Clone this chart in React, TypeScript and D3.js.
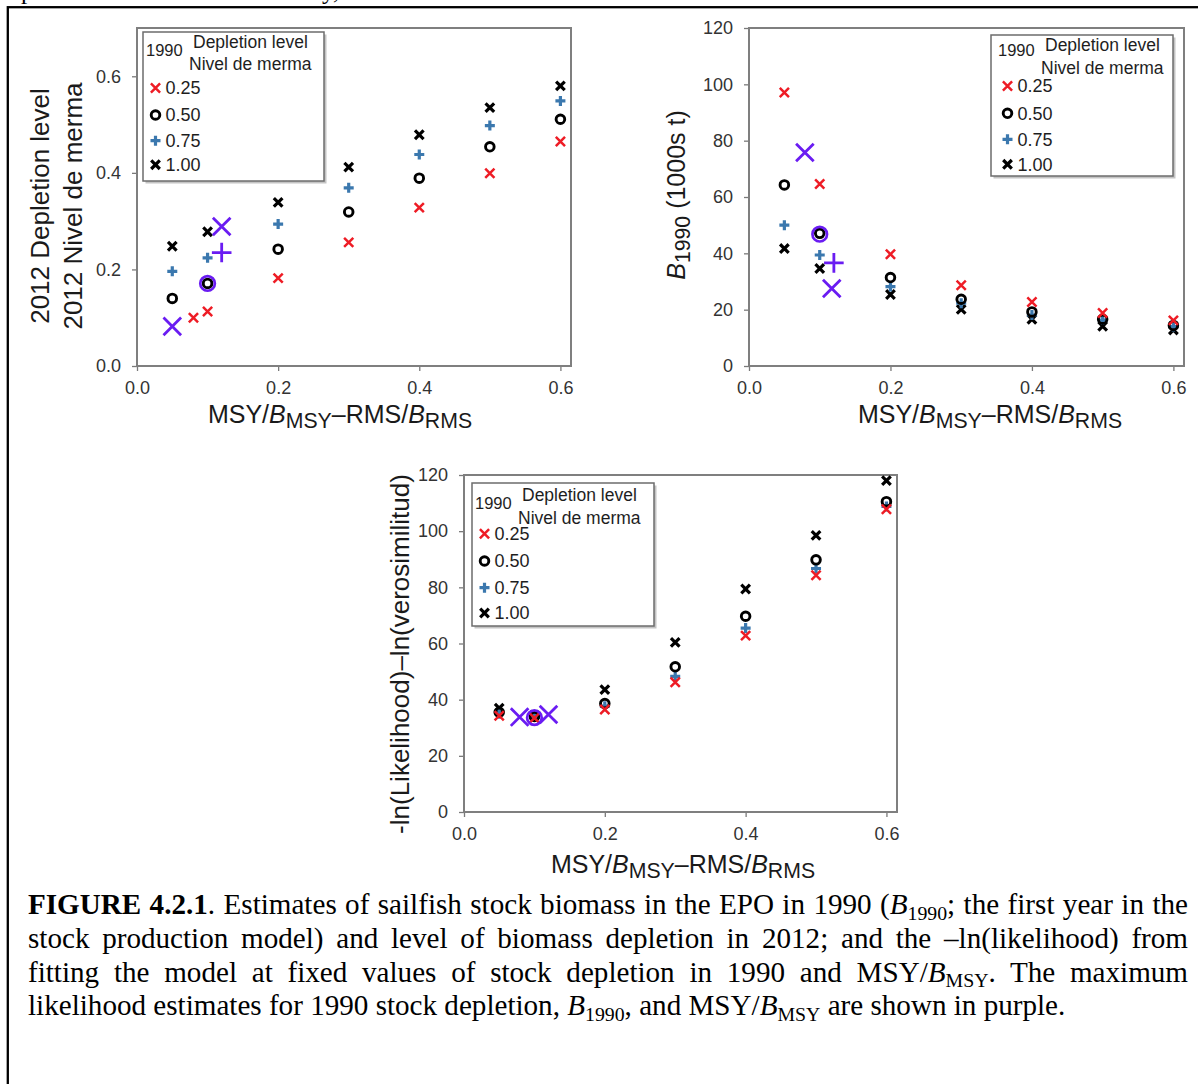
import React, { useEffect, useRef } from 'react';
import * as d3 from 'd3';

// ---------------- data ----------------
const MSY_LEVELS = [0.05, 0.1, 0.2, 0.3, 0.4, 0.5, 0.6];
const MSY_LEVELS_P1_D025 = [0.08, 0.1, 0.2, 0.3, 0.4, 0.5, 0.6];
const DEPLETION_1990 = ['0.25', '0.50', '0.75', '1.00'];

// 2012 depletion level
const DEPL2012_D025 = [0.100, 0.113, 0.182, 0.256, 0.328, 0.399, 0.465];
const DEPL2012_D050 = [0.140, 0.171, 0.242, 0.319, 0.389, 0.454, 0.511];
const DEPL2012_D075 = [0.196, 0.224, 0.294, 0.369, 0.438, 0.498, 0.549];
const DEPL2012_D100 = [0.248, 0.278, 0.339, 0.412, 0.479, 0.535, 0.580];

// B1990 (1000s t)
const B1990_D025 = [97.1, 64.6, 39.7, 28.7, 22.7, 18.8, 16.2];
const B1990_D050 = [64.3, 47.1, 31.4, 23.7, 19.2, 16.6, 14.4];
const B1990_D075 = [50.0, 39.4, 28.2, 22.3, 18.1, 16.3, 14.0];
const B1990_D100 = [41.7, 34.6, 25.4, 20.1, 16.6, 14.1, 12.8];

// -ln(likelihood)
const NLL_D025 = [34.3, 33.5, 36.5, 46.2, 62.8, 84.3, 107.8];
const NLL_D050 = [35.5, 34.0, 38.6, 51.7, 69.7, 89.8, 110.5];
const NLL_D075 = [35.0, 33.8, 37.7, 48.3, 65.5, 86.7, 108.8];
const NLL_D100 = [37.0, 34.5, 43.6, 60.4, 79.4, 98.5, 118.0];

// maximum likelihood estimates (purple)
const MLE_DEPL = [
  { s: 'x', x: 0.05, y: 0.082 },
  { s: 'o', x: 0.1, y: 0.171 },
  { s: '+', x: 0.12, y: 0.235 },
  { s: 'x', x: 0.12, y: 0.289 },
];
const MLE_B1990 = [
  { s: 'x', x: 0.079, y: 75.8 },
  { s: 'o', x: 0.1, y: 46.8 },
  { s: '+', x: 0.12, y: 36.6 },
  { s: 'x', x: 0.117, y: 27.5 },
];
const MLE_NLL = [
  { s: 'x', x: 0.079, y: 33.8 },
  { s: 'o', x: 0.1, y: 33.6 },
  { s: 'x', x: 0.12, y: 34.7 },
];

const X_TICKS = [0, 0.2, 0.4, 0.6];
const Y_TICKS_DEPL = [0, 0.2, 0.4, 0.6];
const Y_TICKS_120 = [0, 20, 40, 60, 80, 100, 120];

// ---------------- styles ----------------
const SANS = "'Liberation Sans', Arial, sans-serif";
const SERIF = "'Liberation Serif', 'Times New Roman', serif";
const PURPLE = '#6a1cf2';
const SERIES_STYLE = [
  { shape: 'x', color: '#ee1c25', size: 4.6, sw: 2.5 },
  { shape: 'o', color: '#000000', size: 4.3, sw: 2.9 },
  { shape: '+', color: '#3b78ae', size: 5.0, sw: 3.2 },
  { shape: 'x', color: '#000000', size: 4.3, sw: 3.2 },
];
const MLE_STYLE: Record<string, { size: number; sw: number }> = {
  x: { size: 8.8, sw: 2.8 },
  '+': { size: 9.8, sw: 2.8 },
  o: { size: 7.3, sw: 2.7 },
};

type Seg = { t: string; b?: boolean; i?: boolean; sub?: boolean };

function addRich(textSel: any, segs: Seg[], fs: number, subScale = 0.82, subShift = 0.22) {
  let prevSub = false;
  segs.forEach((s) => {
    const t = textSel.append('tspan').text(s.t);
    if (s.b) t.attr('font-weight', 'bold');
    if (s.i) t.attr('font-style', 'italic');
    if (s.sub) {
      t.attr('font-size', fs * subScale).attr('dy', fs * subShift);
    } else if (prevSub) {
      t.attr('dy', -fs * subShift);
    }
    prevSub = !!s.sub;
  });
}

function drawMarker(g: any, shape: string, cx: number, cy: number, color: string, size: number, sw: number) {
  if (shape === 'o') {
    g.append('circle').attr('cx', cx).attr('cy', cy).attr('r', size)
      .attr('fill', 'none').attr('stroke', color).attr('stroke-width', sw);
    return;
  }
  const h = size;
  const d = shape === 'x'
    ? `M${cx - h},${cy - h}L${cx + h},${cy + h}M${cx - h},${cy + h}L${cx + h},${cy - h}`
    : `M${cx - h},${cy}L${cx + h},${cy}M${cx},${cy - h}L${cx},${cy + h}`;
  g.append('path').attr('d', d).attr('fill', 'none').attr('stroke', color)
    .attr('stroke-width', sw).attr('stroke-linecap', 'butt');
}

const X_TITLE: Seg[] = [
  { t: 'MSY/' }, { t: 'B', i: true }, { t: 'MSY', sub: true },
  { t: '–RMS/' }, { t: 'B', i: true }, { t: 'RMS', sub: true },
];

const PANELS = [
  {
    left: 137, top: 28, width: 434, height: 338,
    yDomain: [0, 0.7], yTicks: Y_TICKS_DEPL, yFmt: '.1f',
    xs: [MSY_LEVELS_P1_D025, MSY_LEVELS, MSY_LEVELS, MSY_LEVELS],
    ys: [DEPL2012_D025, DEPL2012_D050, DEPL2012_D075, DEPL2012_D100],
    mle: MLE_DEPL,
    legend: { x: 143, y: 32, w: 181, h: 149, dx: 0, dl: 15.5, nm: 37.8, yr: 24.4, rows: [56, 83, 108.7, 132.7] },
    yTitle: { lines: [[{ t: '2012 Depletion level' }], [{ t: '2012 Nivel de merma' }]] as Seg[][], bx: [49, 81.5], cy: 206, fs: 26 },
    xTitle: { cx: 340, by: 423 },
  },
  {
    left: 749, top: 28, width: 435, height: 338,
    yDomain: [0, 120], yTicks: Y_TICKS_120, yFmt: 'd',
    xs: [MSY_LEVELS, MSY_LEVELS, MSY_LEVELS, MSY_LEVELS],
    ys: [B1990_D025, B1990_D050, B1990_D075, B1990_D100],
    mle: MLE_B1990,
    legend: { x: 991, y: 35, w: 182, h: 141, dx: 4, dl: 15.5, nm: 39.1, yr: 21.4, rows: [51, 78.3, 104.3, 129.3] },
    yTitle: { lines: [[{ t: 'B', i: true }, { t: '1990', sub: true }, { t: ' (1000s t)' }]] as Seg[][], bx: [685], cy: 195, fs: 25 },
    xTitle: { cx: 990, by: 423 },
  },
  {
    left: 464, top: 475, width: 433, height: 337,
    yDomain: [0, 120], yTicks: Y_TICKS_120, yFmt: 'd',
    xs: [MSY_LEVELS, MSY_LEVELS, MSY_LEVELS, MSY_LEVELS],
    ys: [NLL_D025, NLL_D050, NLL_D075, NLL_D100],
    mle: MLE_NLL,
    legend: { x: 472, y: 483, w: 182, h: 143, dx: 0, dl: 17.8, nm: 40.5, yr: 25.7, rows: [50.7, 78, 104.7, 130] },
    yTitle: { lines: [[{ t: '-ln(Likelihood)–ln(verosimilitud)' }]] as Seg[][], bx: [408.5], cy: 654, fs: 26 },
    xTitle: { cx: 683, by: 873 },
  },
];

const CAPTION: Seg[][] = [
  [{ t: 'FIGURE 4.2.1', b: true }, { t: '. Estimates of sailfish stock biomass in the EPO in 1990 (' }, { t: 'B', i: true }, { t: '1990', sub: true }, { t: '; the first year in the' }],
  [{ t: 'stock production model) and level of biomass depletion in 2012; and the –ln(likelihood) from' }],
  [{ t: 'fitting the model at fixed values of stock depletion in 1990 and MSY/' }, { t: 'B', i: true }, { t: 'MSY', sub: true }, { t: '. The maximum' }],
  [{ t: 'likelihood estimates for 1990 stock depletion, ' }, { t: 'B', i: true }, { t: '1990', sub: true }, { t: ', and MSY/' }, { t: 'B', i: true }, { t: 'MSY', sub: true }, { t: ' are shown in purple.' }],
];

function drawPanel(svg: any, p: any) {
  const x = d3.scaleLinear().domain([0, 0.615]).range([p.left, p.left + p.width]);
  const y = d3.scaleLinear().domain(p.yDomain).range([p.top + p.height, p.top]);
  const g = svg.append('g');

  const styleAxis = (a: any) => {
    a.select('.domain').remove();
    a.selectAll('line').attr('stroke', '#7a7a7a').attr('stroke-width', 1.3);
    a.selectAll('text').attr('font-family', SANS).attr('font-size', 18).attr('fill', '#333333');
  };
  g.append('g').attr('transform', `translate(0,${p.top + p.height})`)
    .call(d3.axisBottom(x).tickValues(X_TICKS).tickFormat(d3.format('.1f')).tickSize(5).tickPadding(10).tickSizeOuter(0))
    .call(styleAxis)
    .attr('font-family', null).attr('font-size', null);
  g.append('g').attr('transform', `translate(${p.left},0)`)
    .call(d3.axisLeft(y).tickValues(p.yTicks).tickFormat(d3.format(p.yFmt)).tickSize(5).tickPadding(11).tickSizeOuter(0))
    .call(styleAxis)
    .attr('font-family', null).attr('font-size', null);

  g.append('rect').attr('x', p.left).attr('y', p.top).attr('width', p.width).attr('height', p.height)
    .attr('fill', 'none').attr('stroke', '#7f7f7f').attr('stroke-width', 2);

  // series drawn 1.00 -> 0.25
  [3, 2, 1, 0].forEach((si) => {
    const st = SERIES_STYLE[si];
    p.ys[si].forEach((v: number, k: number) => {
      drawMarker(g, st.shape, x(p.xs[si][k]), y(v), st.color, st.size, st.sw);
    });
  });
  p.mle.forEach((m: any) => {
    const st = MLE_STYLE[m.s];
    drawMarker(g, m.s, x(m.x), y(m.y), PURPLE, st.size, st.sw);
  });

  // legend
  const L = p.legend;
  g.append('rect').attr('x', L.x + 2.5).attr('y', L.y + 2.5).attr('width', L.w).attr('height', L.h).attr('fill', '#c4c4c4');
  g.append('rect').attr('x', L.x).attr('y', L.y).attr('width', L.w).attr('height', L.h)
    .attr('fill', '#fff').attr('stroke', '#6c6c6c').attr('stroke-width', 1.5);
  const lt = (tx: number, ty: number, s: string, fs: number) =>
    g.append('text').attr('x', tx).attr('y', ty).attr('font-family', SANS).attr('font-size', fs).attr('fill', '#1e1e1e').text(s);
  lt(L.x + 3 + L.dx, L.y + L.yr, '1990', 16.5);
  lt(L.x + 50 + L.dx, L.y + L.dl, 'Depletion level', 17.5);
  lt(L.x + 46 + L.dx, L.y + L.nm, 'Nivel de merma', 17.5);
  DEPLETION_1990.forEach((lab, i) => {
    const cy = L.y + L.rows[i];
    const st = SERIES_STYLE[i];
    drawMarker(g, st.shape, L.x + 12.5 + L.dx, cy, st.color, st.size, st.sw);
    lt(L.x + 22.5 + L.dx, cy + 6.4, lab, 18);
  });

  // x title
  const xt = g.append('text').attr('x', p.xTitle.cx).attr('y', p.xTitle.by).attr('text-anchor', 'middle')
    .attr('font-family', SANS).attr('font-size', 25).attr('fill', '#1a1a1a');
  addRich(xt, X_TITLE, 25, 0.85, 0.2);

  // y title
  p.yTitle.lines.forEach((segs: Seg[], i: number) => {
    const fs = p.yTitle.fs;
    const t = g.append('text').attr('transform', `translate(${p.yTitle.bx[i]},${p.yTitle.cy}) rotate(-90)`)
      .attr('text-anchor', 'middle').attr('font-family', SANS).attr('font-size', fs).attr('fill', '#1a1a1a');
    addRich(t, segs, fs, 0.85, 0.2);
  });
}

export default function App() {
  const ref = useRef<SVGSVGElement>(null);
  useEffect(() => {
    const svg = d3.select(ref.current);
    svg.selectAll('*').remove();
    svg.append('rect').attr('width', 1198).attr('height', 1084).attr('fill', '#fff');

    // fragments of the line above the figure (descenders only)
    svg.append('text').attr('x', 21).attr('y', -1.5).attr('font-family', SERIF).attr('font-size', 25).text('p');
    svg.append('text').attr('x', 322).attr('y', -1.5).attr('font-family', SERIF).attr('font-size', 25).text('y,');

    // outer frame
    svg.append('rect').attr('x', 7.8).attr('y', 7.2).attr('width', 1400).attr('height', 1400)
      .attr('fill', 'none').attr('stroke', '#000').attr('stroke-width', 2.3);

    PANELS.forEach((p) => drawPanel(svg, p));

    // caption
    const left = 28, right = 1188;
    const mk = (segs: Seg[], fs: number, by: number) => {
      const t = svg.append('text').attr('x', left).attr('y', by).attr('font-family', SERIF)
        .attr('font-size', fs).attr('fill', '#000').style('white-space', 'pre');
      addRich(t, segs, fs, 0.68, 0.2);
      return t;
    };
    // fit font size to the last (unjustified) line
    const probe = mk(CAPTION[3], 25, -100);
    const w4 = (probe.node() as SVGTextElement).getComputedTextLength();
    probe.remove();
    const fs = w4 > 0 ? (25 * 1038) / w4 : 25;
    CAPTION.forEach((segs, i) => {
      const t = mk(segs, fs, 914 + 33.8 * i);
      if (i < 3) {
        const natural = (t.node() as SVGTextElement).getComputedTextLength();
        const txt = segs.map((s) => s.t).join('');
        const n = (txt.match(/ /g) || []).length;
        if (n > 0) t.style('word-spacing', `${(right - left - natural) / n}px`);
      }
    });
  }, []);
  return (
    <svg ref={ref} width={1198} height={1084}
      style={{ position: 'absolute', left: 0, top: 0, display: 'block' }} />
  );
}
